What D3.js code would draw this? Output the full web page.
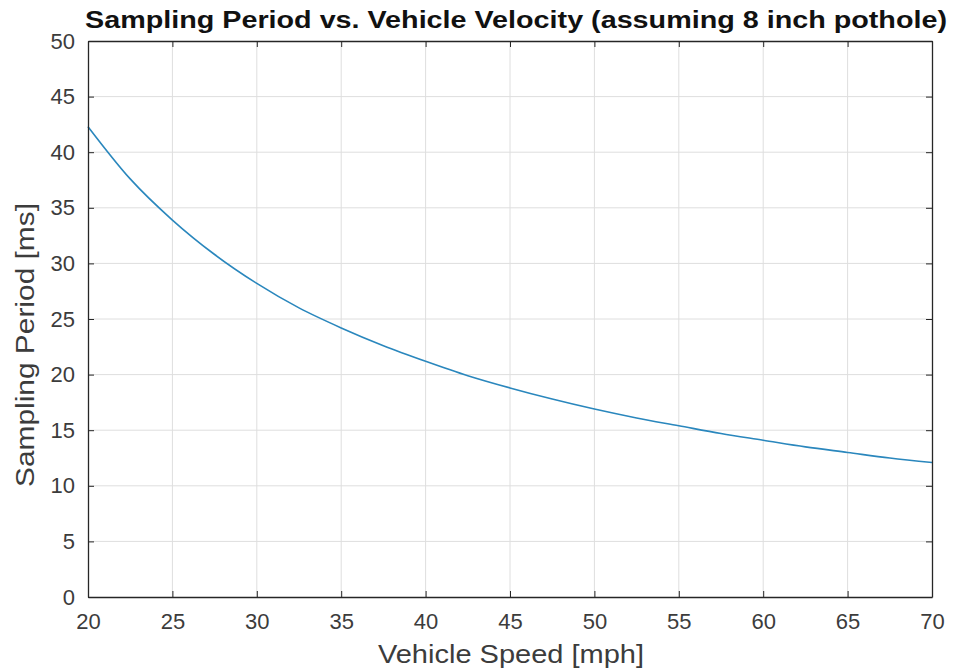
<!DOCTYPE html>
<html>
<head>
<meta charset="utf-8">
<script src="https://cdn.jsdelivr.net/npm/d3@7"></script>
<style>
  body { margin: 0; background: #fff; }
  svg { font-family: "Liberation Sans", Arial, sans-serif; }
</style>
</head>
<body>
<svg id="chart" width="954" height="669"></svg>
<script>
// values
var speeds = [20, 22.5, 25, 27.5, 30, 32.5, 35, 37.5, 40, 42.5, 45, 47.5, 50, 52.5, 55, 57.5, 60, 62.5, 65, 67.5, 70];
var periods = [42.3, 37.6, 33.9, 30.8, 28.2, 26.0, 24.2, 22.6, 21.2, 19.9, 18.8, 17.8, 16.9, 16.1, 15.4, 14.7, 14.1, 13.5, 13.0, 12.5, 12.1];
var xTicks = [20, 25, 30, 35, 40, 45, 50, 55, 60, 65, 70];
var yTicks = [0, 5, 10, 15, 20, 25, 30, 35, 40, 45, 50];

var svg = d3.select('#chart');
var plotLeft = 88, plotRight = 932, plotTop = 41, plotBottom = 597;

var x = d3.scaleLinear().domain([20, 70]).range([plotLeft, plotRight]);
var y = d3.scaleLinear().domain([0, 50]).range([plotBottom, plotTop]);

// grid
var grid = svg.append('g').attr('stroke', '#dedede').attr('stroke-width', 1);
grid.selectAll('line.gx').data(xTicks.slice(1, -1)).enter().append('line')
    .attr('x1', function (d) { return x(d); }).attr('x2', function (d) { return x(d); })
    .attr('y1', plotTop).attr('y2', plotBottom);
grid.selectAll('line.gy').data(yTicks.slice(1, -1)).enter().append('line')
    .attr('y1', function (d) { return y(d); }).attr('y2', function (d) { return y(d); })
    .attr('x1', plotLeft).attr('x2', plotRight);

// line
var pts = speeds.map(function (s, i) { return [s, periods[i]]; });
svg.append('path')
    .datum(pts)
    .attr('fill', 'none')
    .attr('stroke', '#2a87bd')
    .attr('stroke-width', 1.6)
    .attr('d', d3.line()
        .x(function (d) { return x(d[0]); })
        .y(function (d) { return y(d[1]); })
        .curve(d3.curveMonotoneX));

// axes (ticks inward, box on)
function styleAxis(g) {
    g.selectAll('.domain').attr('stroke', '#262626').attr('stroke-width', 1.3);
    g.selectAll('.tick line').attr('stroke', '#262626');
    g.selectAll('.tick text')
        .attr('fill', '#3c3c3c')
        .attr('font-size', 22)
        .attr('font-family', '"Liberation Sans", Arial, sans-serif');
}
svg.append('g').attr('transform', 'translate(0,' + plotBottom + ')')
    .call(d3.axisBottom(x).tickValues(xTicks).tickSize(-6).tickPadding(16).tickSizeOuter(0))
    .call(styleAxis);
svg.append('g').attr('transform', 'translate(0,' + plotTop + ')')
    .call(d3.axisTop(x).tickValues(xTicks).tickSize(-6).tickFormat('').tickSizeOuter(0))
    .call(styleAxis);
svg.append('g').attr('transform', 'translate(' + plotLeft + ',0)')
    .call(d3.axisLeft(y).tickValues(yTicks).tickSize(-6).tickPadding(13).tickSizeOuter(0))
    .call(styleAxis);
svg.append('g').attr('transform', 'translate(' + plotRight + ',0)')
    .call(d3.axisRight(y).tickValues(yTicks).tickSize(-6).tickFormat('').tickSizeOuter(0))
    .call(styleAxis);

// titles
svg.append('text')
    .attr('x', 516).attr('y', 28)
    .attr('text-anchor', 'middle')
    .attr('font-size', 23).attr('font-weight', 'bold').attr('fill', '#111')
    .attr('textLength', 862).attr('lengthAdjust', 'spacingAndGlyphs')
    .text('Sampling Period vs. Vehicle Velocity (assuming 8 inch pothole)');
svg.append('text')
    .attr('x', 511).attr('y', 663)
    .attr('text-anchor', 'middle')
    .attr('font-size', 25).attr('fill', '#3c3c3c')
    .attr('textLength', 266).attr('lengthAdjust', 'spacingAndGlyphs')
    .text('Vehicle Speed [mph]');
svg.append('text')
    .attr('transform', 'translate(34,345) rotate(-90)')
    .attr('text-anchor', 'middle')
    .attr('font-size', 25).attr('fill', '#3c3c3c')
    .attr('textLength', 284).attr('lengthAdjust', 'spacingAndGlyphs')
    .text('Sampling Period [ms]');
</script>
</body>
</html>
